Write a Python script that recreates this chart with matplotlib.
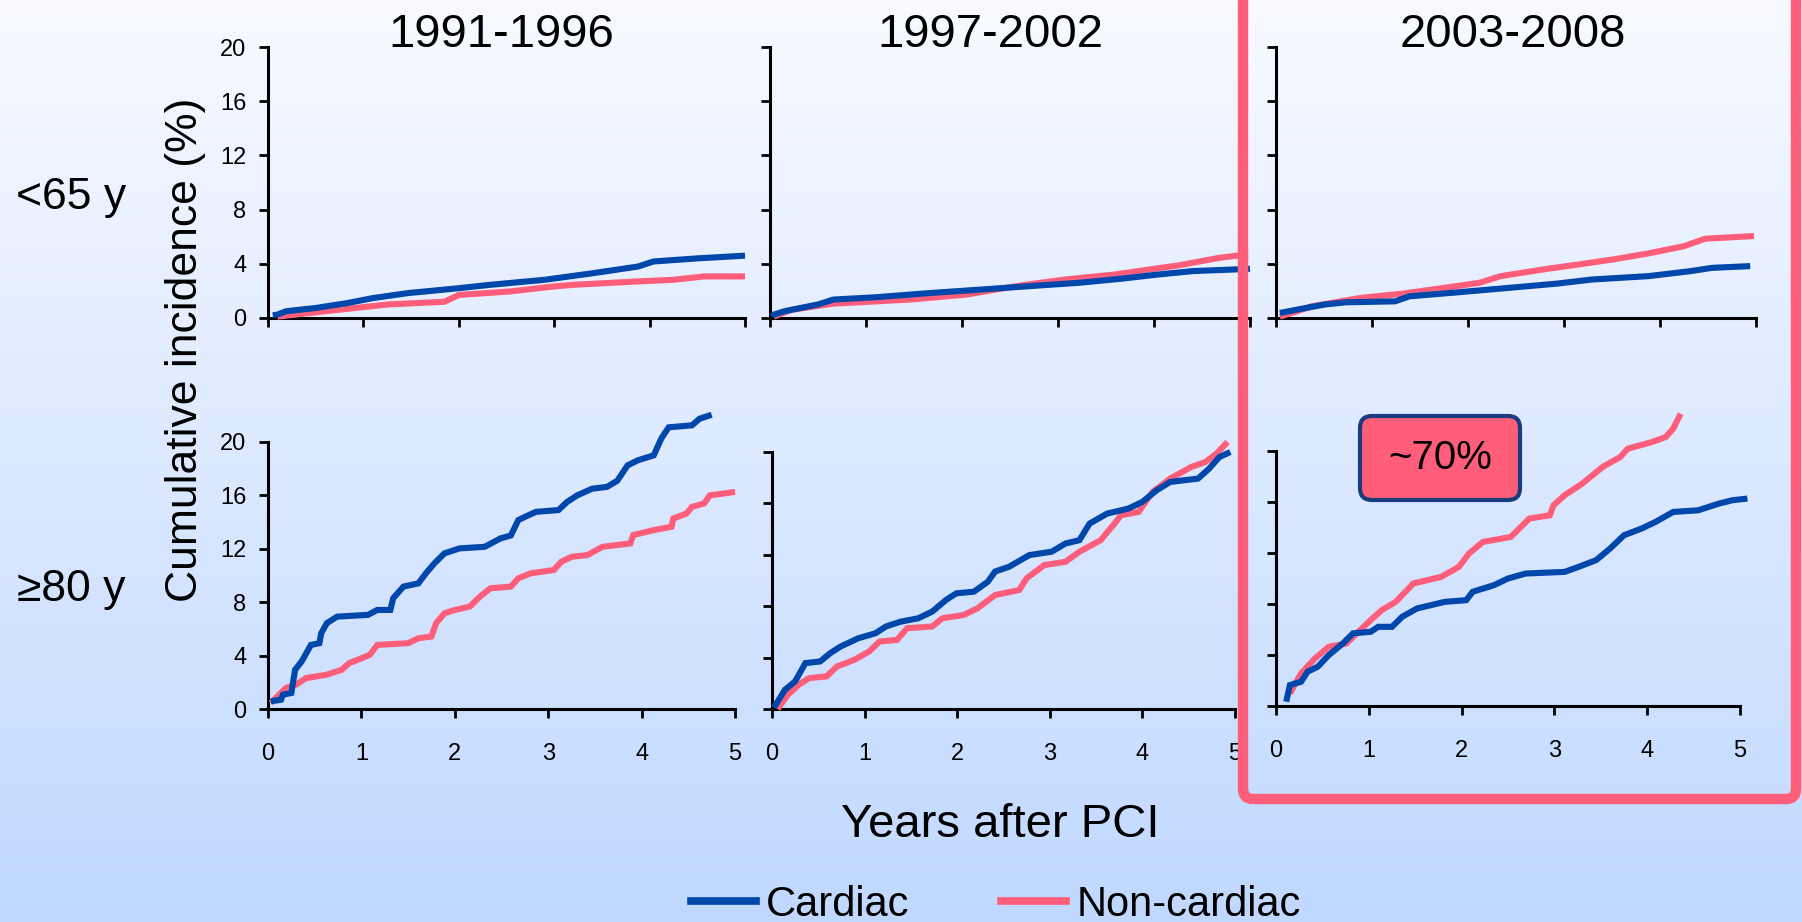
import numpy as np
import matplotlib
matplotlib.use("Agg")
import matplotlib.pyplot as plt
from matplotlib.colors import LinearSegmentedColormap
from matplotlib.patches import FancyBboxPatch
from matplotlib.lines import Line2D

plt.rcParams['font.family'] = ['Liberation Sans', 'DejaVu Sans']

periods = ["1991-1996", "1997-2002", "2003-2008"]
age_groups = ["<65 y", "\u226580 y"]
series_names = ["Cardiac", "Non-cardiac"]
yticks = [0, 4, 8, 12, 16, 20]
xticks = [0, 1, 2, 3, 4, 5]
highlight = "~70%"

# <65 y
yrs_young91_card = [0.05, 0.1, 0.19, 0.5, 0.83, 1.1, 1.47, 2.0, 2.33, 2.9, 3.4, 3.88, 4.04, 4.5, 5.0]
inc_young91_card = [0.2, 0.25, 0.5, 0.74, 1.1, 1.47, 1.84, 2.2, 2.45, 2.82, 3.3, 3.8, 4.17, 4.4, 4.6]
yrs_young91_non = [0.1, 0.6, 1.26, 1.85, 2.0, 2.54, 3.0, 3.2, 3.88, 4.25, 4.57, 5.0]
inc_young91_non = [0.1, 0.5, 1.0, 1.2, 1.7, 1.96, 2.33, 2.45, 2.7, 2.82, 3.07, 3.07]

yrs_young97_card = [0.02, 0.04, 0.15, 0.5, 0.66, 1.1, 1.68, 2.2, 2.7, 3.22, 3.66, 4.03, 4.4, 4.83, 5.0]
inc_young97_card = [0.1, 0.25, 0.5, 1.0, 1.36, 1.53, 1.85, 2.1, 2.35, 2.6, 2.9, 3.2, 3.46, 3.58, 3.63]
yrs_young97_non = [0.04, 0.22, 0.66, 1.46, 2.05, 2.56, 3.07, 3.58, 3.95, 4.25, 4.68, 4.98]
inc_young97_non = [0.1, 0.6, 1.06, 1.36, 1.73, 2.35, 2.84, 3.2, 3.58, 3.88, 4.44, 4.7]

yrs_young03_card = [0.04, 0.22, 0.51, 0.73, 1.24, 1.39, 1.9, 2.42, 2.93, 3.29, 3.88, 4.32, 4.54, 4.94]
inc_young03_card = [0.37, 0.62, 1.0, 1.16, 1.23, 1.6, 1.9, 2.22, 2.54, 2.84, 3.09, 3.46, 3.7, 3.83]
yrs_young03_non = [0.04, 0.22, 0.37, 0.88, 1.32, 1.83, 2.12, 2.34, 2.78, 3.15, 3.51, 3.88, 4.25, 4.47, 4.98]
inc_young03_non = [0.1, 0.5, 0.86, 1.48, 1.8, 2.3, 2.6, 3.09, 3.58, 3.95, 4.32, 4.77, 5.3, 5.85, 6.05]

# >=80 y
yrs_old91_card = [0.03, 0.14, 0.16, 0.25, 0.29, 0.36, 0.41, 0.46, 0.55, 0.57, 0.63, 0.74, 1.07, 1.17, 1.31,
                  1.34, 1.45, 1.61, 1.69, 1.78, 1.89, 2.05, 2.32, 2.49, 2.6, 2.68, 2.79, 2.87, 3.11, 3.2,
                  3.31, 3.47, 3.63, 3.74, 3.85, 3.96, 4.13, 4.21, 4.29, 4.54, 4.62, 4.75]
inc_old91_card = [0.57, 0.7, 1.07, 1.2, 2.94, 3.56, 4.18, 4.8, 4.93, 5.68, 6.43, 6.92, 7.05, 7.42, 7.42,
                  8.29, 9.17, 9.41, 10.16, 10.9, 11.66, 12.03, 12.15, 12.78, 13.0, 14.15, 14.52, 14.77, 14.9, 15.5,
                  16.0, 16.5, 16.64, 17.1, 18.25, 18.63, 19.0, 20.25, 21.1, 21.25, 21.74, 22.04]
yrs_old91_non = [0.03, 0.19, 0.3, 0.41, 0.63, 0.79, 0.87, 0.98, 1.09, 1.17, 1.5, 1.61, 1.75, 1.8, 1.89,
                 2.0, 2.16, 2.27, 2.38, 2.6, 2.68, 2.81, 3.06, 3.14, 3.25, 3.42, 3.58, 3.88, 3.91, 4.13,
                 4.32, 4.34, 4.48, 4.54, 4.67, 4.73, 5.0]
inc_old91_non = [0.45, 1.57, 1.82, 2.32, 2.57, 2.94, 3.44, 3.74, 4.06, 4.8, 4.93, 5.3, 5.43, 6.43, 7.17,
                 7.42, 7.67, 8.42, 9.04, 9.17, 9.79, 10.16, 10.41, 11.03, 11.4, 11.53, 12.15, 12.4, 13.03, 13.4,
                 13.65, 14.27, 14.64, 15.14, 15.4, 16.0, 16.26]

yrs_old97_card = [0.02, 0.14, 0.25, 0.36, 0.52, 0.63, 0.74, 0.93, 1.12, 1.23, 1.39, 1.58, 1.73, 1.88, 1.99,
                  2.18, 2.33, 2.41, 2.56, 2.78, 3.02, 3.17, 3.32, 3.43, 3.62, 3.85, 4.0, 4.15, 4.3, 4.6,
                  4.72, 4.83, 4.95]
inc_old97_card = [0.1, 1.5, 2.15, 3.57, 3.7, 4.35, 4.86, 5.5, 5.9, 6.42, 6.8, 7.06, 7.58, 8.49, 9.0,
                  9.13, 9.9, 10.7, 11.07, 11.98, 12.24, 12.88, 13.14, 14.43, 15.21, 15.6, 16.12, 17.0, 17.67, 17.93,
                  18.7, 19.6, 20.0]
yrs_old97_non = [0.06, 0.17, 0.29, 0.4, 0.59, 0.7, 0.89, 1.05, 1.16, 1.35, 1.46, 1.73, 1.84, 2.07, 2.22,
                 2.41, 2.67, 2.75, 2.94, 3.17, 3.32, 3.55, 3.7, 3.77, 3.96, 4.11, 4.3, 4.53, 4.68, 4.8, 4.92]
inc_old97_non = [0.0, 1.1, 1.9, 2.4, 2.54, 3.3, 3.83, 4.48, 5.25, 5.38, 6.29, 6.42, 7.06, 7.32, 7.84,
                 8.87, 9.26, 10.17, 11.2, 11.46, 12.24, 13.14, 14.44, 15.08, 15.34, 16.9, 17.93, 18.84, 19.22, 19.87, 20.78]

yrs_old03_card = [0.11, 0.15, 0.27, 0.34, 0.45, 0.57, 0.72, 0.83, 1.02, 1.1, 1.25, 1.36, 1.52, 1.82, 2.05,
                  2.12, 2.35, 2.5, 2.69, 3.11, 3.26, 3.45, 3.6, 3.75, 3.94, 4.09, 4.28, 4.55, 4.77, 4.92, 5.08]
inc_old03_card = [0.34, 1.64, 1.9, 2.69, 3.08, 4.0, 4.9, 5.7, 5.82, 6.21, 6.21, 7.0, 7.65, 8.17, 8.3,
                  8.96, 9.48, 10.0, 10.39, 10.52, 10.91, 11.44, 12.35, 13.39, 13.92, 14.44, 15.22, 15.35, 15.87, 16.14, 16.27]
yrs_old03_non = [0.15, 0.27, 0.42, 0.57, 0.76, 0.87, 1.02, 1.14, 1.29, 1.48, 1.78, 1.97, 2.08, 2.23, 2.53,
                 2.73, 2.95, 2.99, 3.11, 3.3, 3.52, 3.71, 3.79, 4.05, 4.2, 4.28, 4.36]
inc_old03_non = [0.99, 2.56, 3.73, 4.65, 4.91, 5.69, 6.74, 7.52, 8.17, 9.61, 10.13, 10.91, 11.96, 12.87, 13.26,
                 14.7, 14.96, 15.74, 16.53, 17.44, 18.75, 19.53, 20.18, 20.7, 21.1, 21.75, 22.92]

card_color = '#0047AB'
non_color = '#FF5E7A'

W, H = 1802, 922
fig = plt.figure(figsize=(W / 100, H / 100), dpi=100)

# background gradient
bg = fig.add_axes([0, 0, 1, 1], zorder=-10)
cmap = LinearSegmentedColormap.from_list('bg', ['#F8FAFF', '#C0D8FF'])
grad = np.linspace(0, 1, 256).reshape(-1, 1)
bg.imshow(grad, aspect='auto', cmap=cmap, extent=[0, 1, 0, 1], origin='upper')
bg.axis('off')


def px_axes(l, r, t, b):
    return fig.add_axes([l / W, 1 - b / H, (r - l) / W, (b - t) / H])


boxes = [[(268, 745, 47, 318), (770, 1250, 47, 318), (1276, 1756, 47, 318)],
         [(268, 735, 442, 709), (772, 1235, 452, 709), (1276, 1740, 451, 706)]]

curves = [[((yrs_young91_card, inc_young91_card), (yrs_young91_non, inc_young91_non)),
           ((yrs_young97_card, inc_young97_card), (yrs_young97_non, inc_young97_non)),
           ((yrs_young03_card, inc_young03_card), (yrs_young03_non, inc_young03_non))],
          [((yrs_old91_card, inc_old91_card), (yrs_old91_non, inc_old91_non)),
           ((yrs_old97_card, inc_old97_card), (yrs_old97_non, inc_old97_non)),
           ((yrs_old03_card, inc_old03_card), (yrs_old03_non, inc_old03_non))]]

for r in range(2):
    for c in range(3):
        ax = px_axes(*boxes[r][c])
        ax.set_facecolor('none')
        (tc, vc), (tn, vn) = curves[r][c]
        ax.plot(tn, vn, color=non_color, lw=4.4, clip_on=False, zorder=3,
                solid_joinstyle='miter', solid_capstyle='butt')
        ax.plot(tc, vc, color=card_color, lw=4.4, clip_on=False, zorder=4,
                solid_joinstyle='miter', solid_capstyle='butt')
        ax.set_xlim(0, 5)
        ax.set_ylim(0, 20)
        ax.set_xticks(xticks)
        ax.set_yticks(yticks)
        for s in ['top', 'right']:
            ax.spines[s].set_visible(False)
        for s in ['left', 'bottom']:
            ax.spines[s].set_linewidth(2.2)
        ax.tick_params(axis='both', direction='out', length=6.5, width=2)
        ax.tick_params(axis='y', labelsize=17, pad=9)
        ax.tick_params(axis='x', labelsize=17, pad=18)
        if c != 0:
            ax.set_yticklabels([])
        if r == 0:
            ax.set_xticklabels([])

title_x = [501, 990, 1513]
for c in range(3):
    fig.text(title_x[c] / W, 1 - 35 / H, periods[c], fontsize=34, ha='center', va='center')

fig.text(71 / W, 1 - 197 / H, age_groups[0], fontsize=32, ha='center', va='center')
fig.text(71 / W, 1 - 590 / H, age_groups[1], fontsize=32, ha='center', va='center')
fig.text(186 / W, 1 - 350 / H, "Cumulative incidence (%)", fontsize=32, rotation=90,
         ha='center', va='center')
fig.text(1000 / W, 1 - 825 / H, "Years after PCI", fontsize=34, ha='center', va='center')

# red highlight frame
frame = FancyBboxPatch((12.43, (H - 799) / 100), 5.53, 10.0,
                       boxstyle='round,pad=0,rounding_size=0.1',
                       transform=fig.dpi_scale_trans, fill=False,
                       edgecolor=non_color, lw=7.5, zorder=20, clip_on=False)
fig.add_artist(frame)

badge = FancyBboxPatch((13.60, (H - 500) / 100), 1.60, 0.84,
                       boxstyle='round,pad=0,rounding_size=0.12',
                       transform=fig.dpi_scale_trans, facecolor=non_color,
                       edgecolor='#1A3C7E', lw=3, zorder=21)
fig.add_artist(badge)
fig.text(1440 / W, 1 - 458 / H, highlight, fontsize=29, ha='center', va='center', zorder=22)

handles = [Line2D([], [], color=card_color, lw=5.5),
           Line2D([], [], color=non_color, lw=5.5)]
fig.legend(handles, series_names, loc='center', bbox_to_anchor=(996 / W, 1 - 905 / H),
           ncol=2, frameon=False, fontsize=30, handlelength=1.55, handletextpad=0.25,
           columnspacing=2.2, borderaxespad=0, borderpad=0)

fig.savefig('out.png', dpi=100)
